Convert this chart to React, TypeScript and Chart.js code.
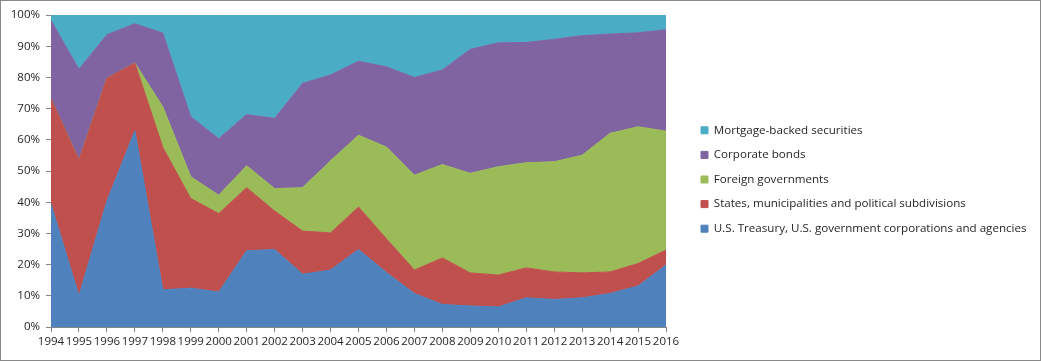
import React, { useEffect, useRef } from "react";
import { Chart, registerables } from "chart.js";

Chart.register(...registerables);

const years = ["1994","1995","1996","1997","1998","1999","2000","2001","2002","2003","2004","2005","2006","2007","2008","2009","2010","2011","2012","2013","2014","2015","2016"];

const treasury = [39.5, 10.1, 40.4, 62.9, 12.0, 12.5, 11.3, 24.5, 24.9, 17.0, 18.3, 24.9, 17.5, 10.8, 7.3, 6.8, 6.5, 9.4, 8.9, 9.4, 10.8, 13.2, 19.9];
const states = [33.6, 43.4, 39.3, 21.7, 45.6, 28.7, 25.1, 20.2, 12.3, 13.8, 11.9, 13.6, 10.8, 7.5, 14.9, 10.6, 10.2, 9.6, 8.8, 8.0, 6.9, 7.2, 4.8];
const foreign = [0, 0, 0, 0, 13.0, 7.0, 5.9, 7.0, 7.2, 13.9, 23.1, 23.0, 29.4, 30.4, 29.9, 31.9, 34.7, 33.7, 35.3, 37.7, 44.4, 43.8, 38.1];
const corporate = [25.2, 29.1, 14.0, 12.6, 23.6, 19.2, 18.1, 16.4, 22.5, 33.4, 27.5, 23.7, 25.7, 31.3, 30.3, 39.7, 39.7, 38.5, 39.2, 38.3, 31.8, 30.1, 32.5];
const mortgage = [1.7, 17.4, 6.3, 2.8, 5.8, 32.6, 39.6, 31.9, 33.1, 21.9, 19.2, 14.8, 16.6, 20.0, 17.6, 11.0, 8.9, 8.8, 7.8, 6.6, 6.1, 5.7, 4.7];

const seriesNames = [
  "U.S. Treasury, U.S. government corporations and agencies",
  "States, municipalities and political subdivisions",
  "Foreign governments",
  "Corporate bonds",
  "Mortgage-backed securities",
];
const seriesColors = ["#4F81BD", "#C0504D", "#9BBB59", "#8064A2", "#4BACC6"];
const yTicks = [0, 10, 20, 30, 40, 50, 60, 70, 80, 90, 100];

const FONT = "'Open Sans'";
const AXIS = "#868686";
const TEXT = "#262626";
const PLOT_RIGHT = 665;

export default function App() {
  const ref = useRef<HTMLCanvasElement | null>(null);
  useEffect(() => {
    if (!ref.current) return;
    const values = [treasury, states, foreign, corporate, mortgage];
    const legendShift = {
      id: "legendShift",
      afterLayout(chart: any) {
        if (chart.legend) {
          chart.legend.left += 22;
          chart.legend.right += 22;
          chart.legend.top -= 4;
          chart.legend.bottom -= 4;
        }
      },
    };
    const chart = new Chart(ref.current, {
      type: "line",
      data: {
        labels: years,
        datasets: values.map((v, i) => ({
          label: seriesNames[i],
          data: v,
          backgroundColor: seriesColors[i],
          borderColor: seriesColors[i],
          borderWidth: 1,
          pointRadius: 0,
          tension: 0,
          fill: i === 0 ? "origin" : "-1",
        })),
      },
      options: {
        responsive: false,
        animation: false,
        layout: { padding: { left: 6, top: 14, bottom: 8, right: 0 } },
        plugins: {
          tooltip: { enabled: false },
          legend: {
            position: "right",
            reverse: true,
            maxWidth: 440,
            labels: {
              boxWidth: 7,
              boxHeight: 7,
              padding: 13,
              color: TEXT,
              font: { family: FONT, size: 11.6 },
            },
          },
        },
        scales: {
          x: {
            offset: false,
            grid: { display: true, drawOnChartArea: false, drawTicks: true, tickLength: 5, color: AXIS },
            border: { color: AXIS },
            ticks: { autoSkip: false, maxRotation: 0, minRotation: 0, padding: 3, color: TEXT, font: { family: FONT, size: 11.5 } },
          },
          y: {
            stacked: true,
            min: 0,
            max: 100,
            afterBuildTicks: (s: any) => { s.ticks = yTicks.map((v) => ({ value: v })); },
            afterFit: (s: any) => { s.width = 44; },
            grid: { display: true, drawOnChartArea: false, drawTicks: true, tickLength: 5, color: AXIS },
            border: { color: AXIS },
            ticks: { padding: 6, color: TEXT, font: { family: FONT, size: 11.5 }, callback: (v: any) => v + "%" },
          },
        },
      },
      plugins: [legendShift],
    });
    const diff = PLOT_RIGHT - chart.chartArea.right;
    if (Math.abs(diff) > 0.5) {
      (chart.options.layout as any).padding.right = Math.max(0, -diff);
      chart.update();
    }
    return () => chart.destroy();
  }, []);
  return (
    <div style={{ position: "absolute", left: 0, top: 0, width: 1041, height: 361, border: "1px solid #898989", boxSizing: "border-box", background: "#fff" }}>
      <canvas ref={ref} width={1039} height={359} style={{ display: "block" }} />
    </div>
  );
}
